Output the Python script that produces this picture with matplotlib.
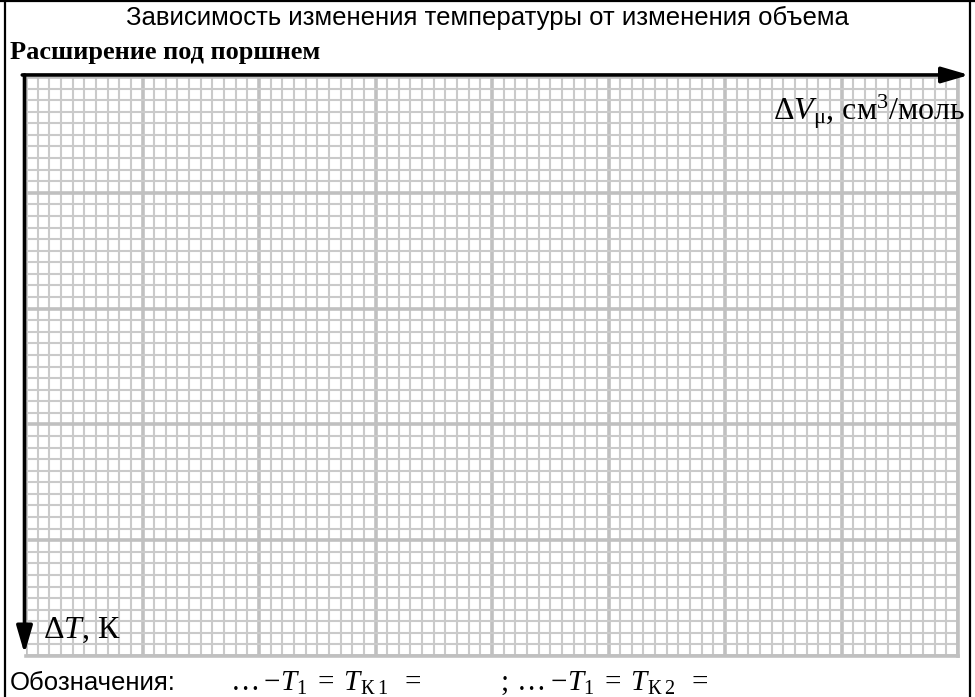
import matplotlib
matplotlib.use('Agg')
import matplotlib.pyplot as plt
from matplotlib.lines import Line2D
from matplotlib.ticker import MultipleLocator

plt.rcParams['mathtext.fontset'] = 'custom'
plt.rcParams['mathtext.rm'] = 'Liberation Serif'
plt.rcParams['mathtext.it'] = 'Liberation Serif:italic'
plt.rcParams['mathtext.bf'] = 'Liberation Serif:bold'

# empty graph paper: 8 x 5 big cells, 10 small cells each
x_cells = 80
y_cells = 50
major_step = 10
minor_step = 1

title = 'Зависимость изменения температуры от изменения объема'
subtitle = 'Расширение под поршнем'
x_label = r'$\Delta V_{\mathrm{\mu}}$, см$^3$/моль'
y_label = r'$\Delta T$, К'
note = 'Обозначения:'
note_1 = r'$\ldots\:-T_1\;=\;T_{\mathrm{К}\;1}\;\;=$'
note_2 = r'$;\:\ldots\:-T_1\;=\;T_{\mathrm{К}\;2}\;\;=$'

W, H = 975, 697
fig = plt.figure(figsize=(W / 100, H / 100), dpi=100)
fig.patch.set_facecolor('white')

# axes box in pixels (left, top, right, bottom)
L, T, R, B = 26, 77, 958, 656
ax = fig.add_axes([L / W, 1 - B / H, (R - L) / W, (B - T) / H])
ax.set_xlim(0, x_cells)
ax.set_ylim(y_cells, 0)
ax.xaxis.set_major_locator(MultipleLocator(major_step))
ax.xaxis.set_minor_locator(MultipleLocator(minor_step))
ax.yaxis.set_major_locator(MultipleLocator(major_step))
ax.yaxis.set_minor_locator(MultipleLocator(minor_step))
ax.tick_params(which='both', length=0, labelbottom=False, labelleft=False)
ax.grid(which='minor', color='#cacaca', lw=1.5)
ax.grid(which='major', color='#c0c0c0', lw=2.6)
ax.set_axisbelow(True)
for s in ['left', 'top']:
    ax.spines[s].set_visible(False)
for s in ['right', 'bottom']:
    ax.spines[s].set_color('#c0c0c0')
    ax.spines[s].set_linewidth(2.6)

# axis arrows
arrow = dict(arrowstyle='-|>,head_length=1.1,head_width=0.32', lw=2.6,
             color='black', shrinkA=0, shrinkB=0, mutation_scale=15)
ax.annotate('', xy=(1.012, 1.0035), xytext=(-0.004, 1.0035),
            xycoords='axes fraction', arrowprops=arrow, annotation_clip=False)
ax.annotate('', xy=(-0.0016, 0.004), xytext=(-0.0016, 1.0035),
            xycoords='axes fraction', arrowprops=arrow, annotation_clip=False)

ax.text(1.0075, 0.94, x_label, transform=ax.transAxes, ha='right', va='center',
        family='Liberation Serif', fontsize=23)
ax.text(0.018, 0.045, y_label, transform=ax.transAxes, ha='left', va='center',
        family='Liberation Serif', fontsize=23)

fig.text(0.5, 1 - 18 / H, title, ha='center', va='center',
         family='Liberation Sans', fontsize=18.5)
fig.text(10 / W, 1 - 53 / H, subtitle, ha='left', va='center',
         family='Liberation Serif', fontweight='bold', fontsize=19)
fig.text(10 / W, 1 - 683 / H, note, ha='left', va='center',
         family='Liberation Sans', fontsize=18.5)
fig.text(230 / W, 1 - 683 / H, note_1, ha='left', va='center',
         family='Liberation Serif', fontsize=21)
fig.text(500 / W, 1 - 683 / H, note_2, ha='left', va='center',
         family='Liberation Serif', fontsize=21)

# frame of the table cell
fig.add_artist(Line2D([5 / W, 5 / W], [0, 1], color='black', lw=1.6))
fig.add_artist(Line2D([0, 1], [1 - 1 / H, 1 - 1 / H], color='black', lw=1.6))
fig.add_artist(Line2D([970 / W, 970 / W], [0, 1], color='black', lw=1.6))

fig.savefig('out.png', dpi=100, facecolor='white')
